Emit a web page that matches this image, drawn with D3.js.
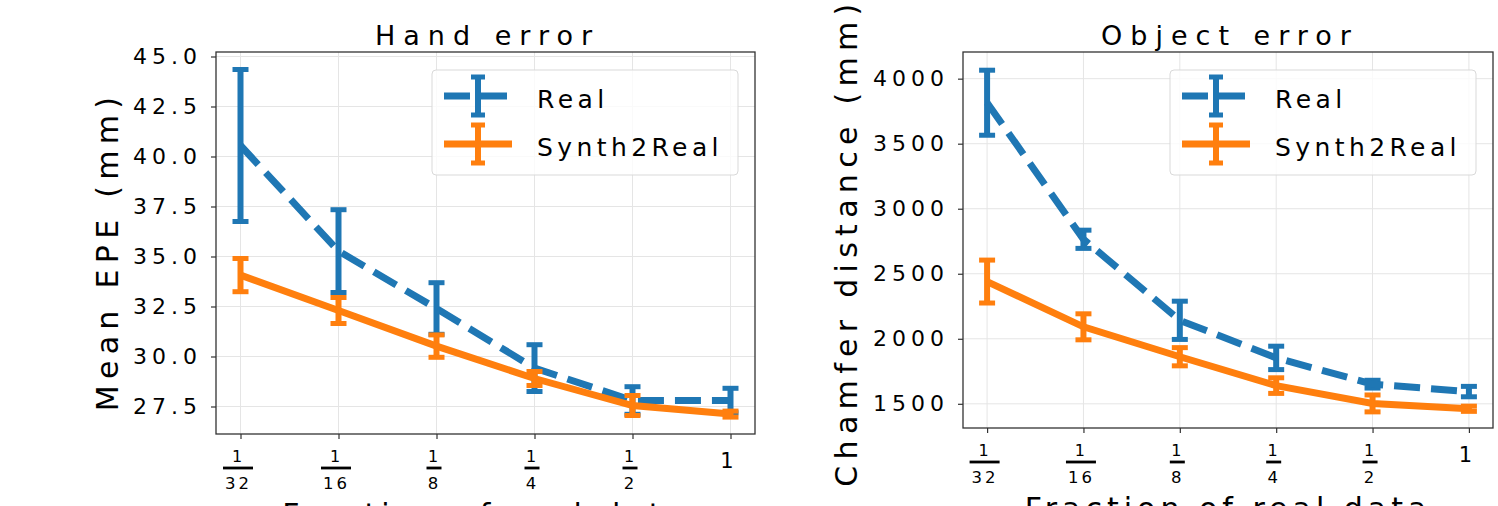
<!DOCTYPE html>
<html>
<head>
<meta charset="utf-8">
<script src="https://cdn.jsdelivr.net/npm/d3@7"></script>
<style>
  body { margin: 0; background: #fff; }
  text { font-family: "DejaVu Sans", sans-serif; fill: #000; }
</style>
</head>
<body>
<svg id="chart" width="1498" height="506"></svg>
<script>
// x positions: fraction of real data
var fractions = [1/32, 1/16, 1/8, 1/4, 1/2, 1];
var fractionLabels = ["1/32", "1/16", "1/8", "1/4", "1/2", "1"];
var seriesNames = ["Real", "Synth2Real"];

// Hand error (mm)
var handReal = [40.55, 35.27, 32.4, 29.42, 27.8, 27.8];
var handRealErr = [3.8, 2.07, 1.29, 1.17, 0.69, 0.61];
var handSynth = [34.07, 32.3, 30.52, 28.9, 27.55, 27.12];
var handSynthErr = [0.83, 0.65, 0.56, 0.35, 0.5, 0.15];
var handTicks = [27.5, 30.0, 32.5, 35.0, 37.5, 40.0, 42.5, 45.0];

// Object error (chamfer distance, mm)
var objReal = [3815, 2765, 2142, 1853, 1651, 1594];
var objRealErr = [250, 70, 147, 90, 30, 40];
var objSynth = [2440, 2092, 1862, 1640, 1503, 1462];
var objSynthErr = [165, 100, 70, 60, 65, 20];
var objTicks = [1500, 2000, 2500, 3000, 3500, 4000];

var color = { real: "#1f77b4", synth: "#ff7f0e", grid: "#e5e5e5", spine: "#333" };
var svg = d3.select("#chart");

function drawPanel(p) {
    var x = d3.scaleLog().base(2)
        .domain([Math.pow(2, -5.25), Math.pow(2, 0.25)])
        .range([p.left, p.right]);
    var y = d3.scaleLinear().domain(p.yDomain).range([p.bottom, p.top]);
    var g = svg.append("g");

    //网格
    g.selectAll(".gy").data(p.yTicks).enter().append("line")
        .attr("x1", p.left).attr("x2", p.right)
        .attr("y1", function(d){ return y(d); }).attr("y2", function(d){ return y(d); })
        .attr("stroke", color.grid).attr("stroke-width", 1);
    g.selectAll(".gx").data(fractions).enter().append("line")
        .attr("y1", p.top).attr("y2", p.bottom)
        .attr("x1", function(d){ return x(d); }).attr("x2", function(d){ return x(d); })
        .attr("stroke", color.grid).attr("stroke-width", 1);

    // y axis
    var ya = g.append("g").attr("transform", "translate(" + p.left + ",0)")
        .call(d3.axisLeft(y).tickValues(p.yTicks).tickFormat(p.yFmt).tickSize(5).tickPadding(9));
    ya.select(".domain").remove();
    ya.selectAll("line").attr("stroke", color.spine).attr("stroke-width", 1.2);
    ya.selectAll("text").attr("font-size", 22).attr("letter-spacing", 5)
        .attr("font-family", "DejaVu Sans").attr("fill", "#000");

    // x axis with fraction labels
    var xa = g.append("g").attr("transform", "translate(0," + p.bottom + ")")
        .call(d3.axisBottom(x).tickValues(fractions).tickFormat("").tickSize(5));
    xa.select(".domain").remove();
    xa.selectAll("line").attr("stroke", color.spine).attr("stroke-width", 1.2);
    xa.selectAll(".tick").each(function(d, i) {
        var t = d3.select(this);
        var parts = fractionLabels[i].split("/");
        if (parts.length == 1) {
            t.append("text").attr("x", -4).attr("y", 34).attr("text-anchor", "middle")
                .attr("font-size", 21).text(parts[0]);
            return;
        }
        var w = parts[1].length > 1 ? 30 : 15;
        t.append("text").attr("x", -4).attr("y", 28).attr("text-anchor", "middle")
            .attr("font-size", 16).text(parts[0]);
        t.append("line").attr("x1", -w/2 - 3).attr("x2", w/2 - 3)
            .attr("y1", 34).attr("y2", 34).attr("stroke", "#000").attr("stroke-width", 2.8);
        t.append("text").attr("x", -2.5).attr("y", 55).attr("text-anchor", "middle")
            .attr("font-size", 16.5).attr("letter-spacing", 3).text(parts[1]);
    });

    // 边框
    g.append("rect").attr("x", p.left).attr("y", p.top)
        .attr("width", p.right - p.left).attr("height", p.bottom - p.top)
        .attr("fill", "none").attr("stroke", color.spine).attr("stroke-width", 1.3);

    // series: errorbars + line
    var series = [
        { vals: p.real, errs: p.realErr, c: color.real, dash: "26,11" },
        { vals: p.synth, errs: p.synthErr, c: color.synth, dash: null }
    ];
    series.forEach(function(s) {
        var pts = fractions.map(function(f, i){ return [f, s.vals[i], s.errs[i]]; });
        var eb = g.append("g");
        eb.selectAll(".bar").data(pts).enter().append("line")
            .attr("x1", function(d){ return x(d[0]); }).attr("x2", function(d){ return x(d[0]); })
            .attr("y1", function(d){ return y(d[1] - d[2]); })
            .attr("y2", function(d){ return y(d[1] + d[2]); })
            .attr("stroke", s.c).attr("stroke-width", 6);
        [-1, 1].forEach(function(sign) {
            eb.selectAll(".cap" + sign).data(pts).enter().append("line")
                .attr("x1", function(d){ return x(d[0]) - 8; })
                .attr("x2", function(d){ return x(d[0]) + 8; })
                .attr("y1", function(d){ return y(d[1] + sign * d[2]); })
                .attr("y2", function(d){ return y(d[1] + sign * d[2]); })
                .attr("stroke", s.c).attr("stroke-width", 5);
        });
        var line = d3.line().x(function(d){ return x(d[0]); }).y(function(d){ return y(d[1]); });
        g.append("path").datum(pts).attr("d", line)
            .attr("fill", "none").attr("stroke", s.c).attr("stroke-width", 7)
            .attr("stroke-dasharray", s.dash);
    });

    // legend
    var lg = g.append("g").attr("transform", "translate(" + (p.right - 17 - 306) + "," + (p.top + 18) + ")");
    lg.append("rect").attr("width", 306).attr("height", 105).attr("rx", 4)
        .attr("fill", "#fff").attr("fill-opacity", 0.8).attr("stroke", "#d9d9d9").attr("stroke-width", 1);
    series.forEach(function(s, i) {
        var cy = 26 + i * 48;
        lg.append("line").attr("x1", 12).attr("x2", 80).attr("y1", cy).attr("y2", cy)
            .attr("stroke", s.c).attr("stroke-width", 7).attr("stroke-dasharray", s.dash);
        lg.append("line").attr("x1", 46).attr("x2", 46).attr("y1", cy - 19).attr("y2", cy + 19)
            .attr("stroke", s.c).attr("stroke-width", 6);
        [-19, 19].forEach(function(o) {
            lg.append("line").attr("x1", 39).attr("x2", 53).attr("y1", cy + o).attr("y2", cy + o)
                .attr("stroke", s.c).attr("stroke-width", 5);
        });
        lg.append("text").attr("x", 105).attr("y", cy + 12).attr("font-size", 25)
            .attr("letter-spacing", 4.4).text(seriesNames[i]);
    });

    // titles and labels
    g.append("text").attr("x", (p.left + p.right) / 2 + 2).attr("y", 45)
        .attr("text-anchor", "middle").attr("font-size", 27).attr("letter-spacing", 8)
        .text(p.title);
    g.append("text").attr("transform", "translate(" + p.ylabelX + "," + p.ylabelY + ") rotate(-90)")
        .attr("text-anchor", "middle").attr("font-size", 30).attr("letter-spacing", p.ylabelSpacing)
        .text(p.ylabel);
    g.append("text").attr("x", (p.left + p.right) / 2).attr("y", p.bottom + 91)
        .attr("text-anchor", "middle").attr("font-size", 30).attr("letter-spacing", 5)
        .text("Fraction of real data");
}

drawPanel({
    left: 216, right: 755, top: 52, bottom: 434,
    yDomain: [26.125, 45.225], yTicks: handTicks, yFmt: d3.format(".1f"),
    title: "Hand error", ylabel: "Mean EPE (mm)",
    ylabelX: 118, ylabelY: 251, ylabelSpacing: 6.3,
    real: handReal, realErr: handRealErr, synth: handSynth, synthErr: handSynthErr
});
drawPanel({
    left: 963, right: 1493, top: 52, bottom: 428,
    yDomain: [1314, 4205], yTicks: objTicks, yFmt: d3.format("d"),
    title: "Object error", ylabel: "Chamfer distance (mm)",
    ylabelX: 857, ylabelY: 242, ylabelSpacing: 6.3,
    real: objReal, realErr: objRealErr, synth: objSynth, synthErr: objSynthErr
});
</script>
</body>
</html>
